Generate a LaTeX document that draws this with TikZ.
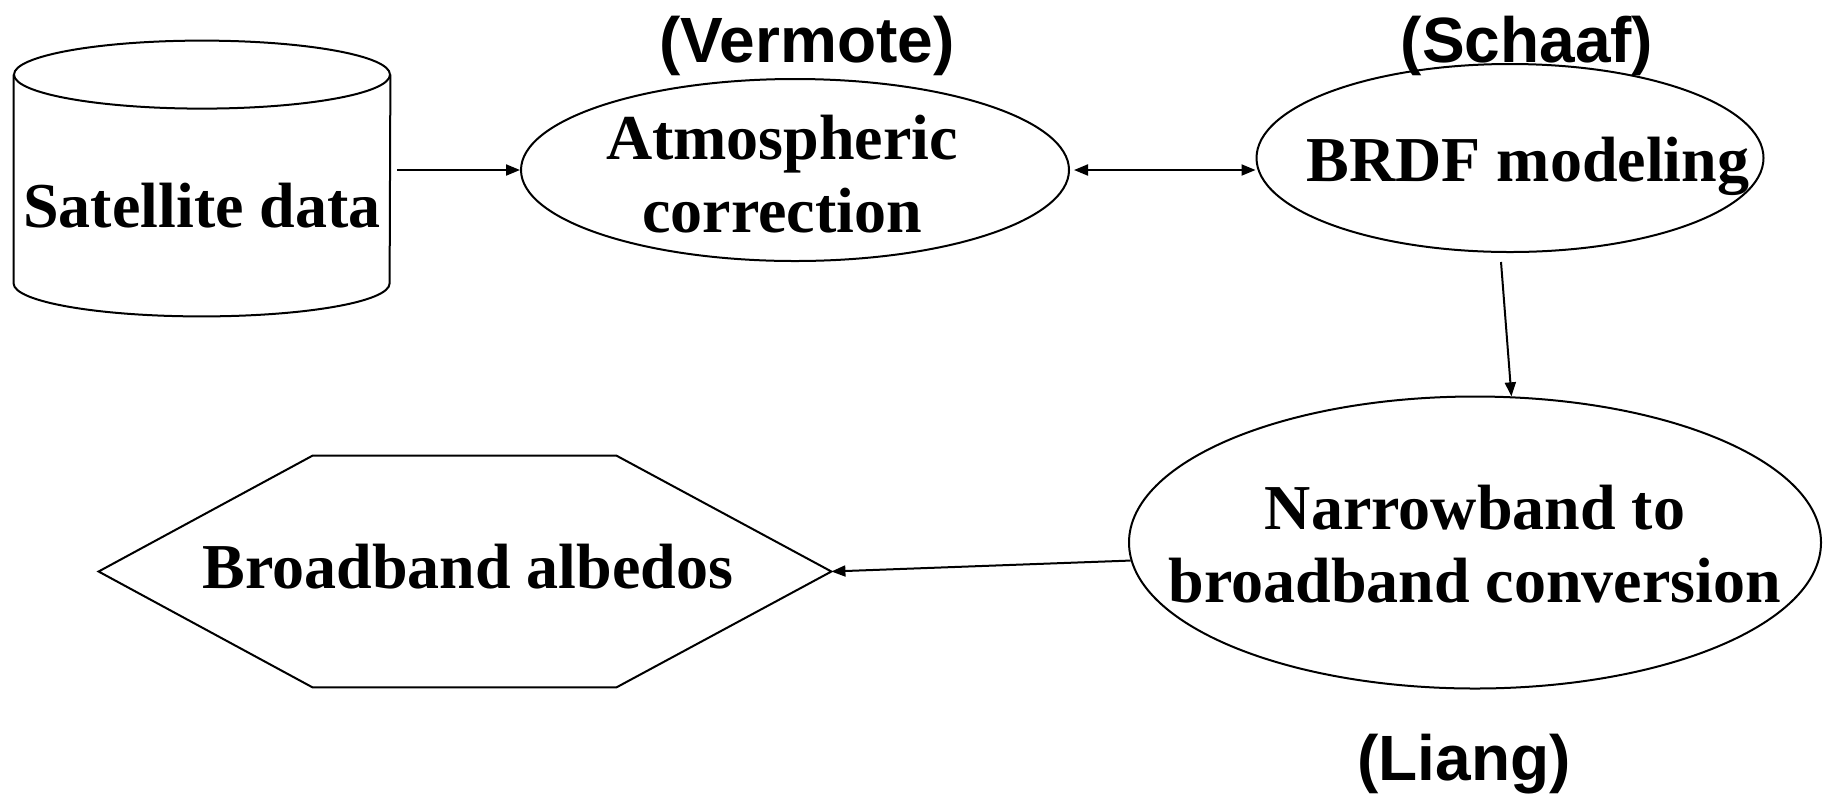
\documentclass[tikz,border=0pt]{standalone}
\usepackage{fontspec}
\setmainfont{Liberation Serif}
\newfontfamily\authorfont{Liberation Sans}
\usetikzlibrary{shapes.geometric,arrows.meta,calc}

\tikzset{
  stroke/.style={line width=1pt, black},
  boxtext/.style={font=\bfseries\fontsize{32}{36.5}\selectfont, align=center, inner sep=0pt},
  author/.style={font=\authorfont\bfseries\fontsize{32}{38}\selectfont, inner sep=0pt, anchor=base},
  oval/.style={ellipse, draw, stroke, inner sep=0pt},
  hull/.style={rectangle, draw=none, inner sep=0pt},
  tip/.tip={Triangle[length=7pt,width=5.5pt]},
  arr/.style={stroke, -tip},
  dblarr/.style={stroke, tip-tip},
}

\begin{document}
\begin{tikzpicture}[x=0.5pt,y=-0.5pt]
  \useasboundingbox (0,0) rectangle (1829,794);

  % data store (cylinder)
  \node[hull, minimum width=188pt, minimum height=137.5pt,
        label={[boxtext, yshift=-13.5pt]center:Satellite data}] (sat) at (202,178.5) {};
  \draw[stroke] ($(sat.north)+(0,34)$) ellipse [x radius=188, y radius=34];
  \draw[stroke] ($(sat.north west)+(0,34)$) -- ($(sat.south west)+(0,-33)$)
        arc[start angle=180, end angle=0, x radius=188, y radius=33]
        -- ($(sat.north east)+(0,34)$);

  % processing steps
  \node[oval, minimum width=274pt, minimum height=91pt,
        label={[boxtext, xshift=-6.5pt, yshift=-2pt]center:Atmospheric\\correction}] (atm) at (795,170) {};
  \node[oval, minimum width=253.5pt, minimum height=94pt,
        label={[boxtext, xshift=9pt, yshift=-4pt]center:BRDF modeling}] (brdf) at (1510,158) {};
  \node[oval, minimum width=346pt, minimum height=146pt,
        label={[boxtext, yshift=-1pt]center:Narrowband to\\broadband conversion}] (nb) at (1475,542.5) {};

  % output (hexagon)
  \node[hull, minimum width=366pt, minimum height=115.5pt,
        label={[boxtext, xshift=1.5pt, yshift=2.5pt]center:Broadband albedos}] (alb) at (465,571.5) {};
  \draw[stroke] (alb.west) -- ($(alb.north west)+(214,0)$) -- ($(alb.north east)+(-215,0)$)
        -- (alb.east) -- ($(alb.south east)+(-215,0)$) -- ($(alb.south west)+(214,0)$) -- cycle;

  % references
  \node[author] (vermote) at (807,62) {(Vermote)};
  \node[author] (schaaf) at (1527,62) {(Schaaf)};
  \node[author] (liang) at (1464,780) {(Liang)};

  % flow
  \draw[arr] ($(sat.east |- atm.west)+(7,0)$) -- (atm.west);
  \draw[dblarr] ($(atm.east)+(4,0)$) -- (atm.east -| brdf.west);
  \draw[arr] ($(brdf.south)+(-9,9)$) -- (nb.76);
  \draw[arr] (nb.183) -- (alb.east);
\end{tikzpicture}
\end{document}
